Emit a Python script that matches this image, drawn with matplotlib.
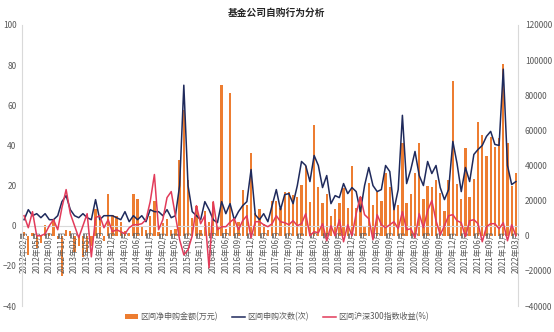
import numpy as np
import matplotlib
matplotlib.use("Agg")
import matplotlib.pyplot as plt
from matplotlib.patches import Patch
from matplotlib.lines import Line2D

plt.rcParams["font.family"] = ["Noto Sans CJK SC", "DejaVu Sans"]

# monthly series, 2012-02 .. 2022-03 (a few months absent)
NET_AMOUNT = [  # 区间净申购金额, 万元
    2000, -11000, 1500, -7000, -4000, 6000, 1500, 9000, -2000, -23000,
    3000, 2500, -9000, -6000, -12000, -9000, -6000, 15000, 9000, -3000,
    24000, 12000, 11000, 8000, 2500, 1500, 24000, 21000, 5000, 3000,
    11000, 20000, 2000, 7000, 9500, 3000, 4000, 43000, 71500, 32000,
    10000, 17000, 3500, 14000, 8000, 19000, 5000, 86000, 4000, 81000,
    10000, 8000, 26000, 17500, 47000, 13000, 15500, 6500, 3000, 20000,
    20000, 16000, 25000, 25000, 23000, 22000, 29000, 40000, 19000, 63000,
    28000, 18500, 24000, 11000, 15000, 18500, 27000, 16000, 39500, 16000,
    22000, 5000, 30000, 17500, 25000, 20000, 36000, 28000, 16000, 17500,
    53000, 18500, 24000, 36000, 53000, 21000, 28500, 27500, 31500, 24500,
    14000, 31500, 88000, 29500, 21000, 50000, 22000, 32500, 64500, 57500,
    45500, 56500, 50500, 55500, 98000, 53000, 28500, 35500,
]

SUB_COUNT = [  # 区间申购次数, 次
    3, 8, 5, 6, 4, 6, 3, 3, 5, 12,
    15, 8, 5, 4, 6, 4, 3, 13, 3, 5,
    5, 5, 4, 3, 7, 2, 5, 3, 5, 2,
    8, 7, 7, 5, 8, 4, 5, 20, 70, 20,
    7, 5, 3, 12, 8, 3, 1.5, 12, 6, 11,
    3, 7, 10, 12, 28, 5.5, 3, 6, 2, 10,
    18, 8, 15.5, 16, 11, 20, 32, 30, 22, 35,
    30, 19, 25, 11, 15, 14, 21, 16, 19, 17,
    7, 20, 29, 20, 17, 18, 30, 27, 8, 18,
    55, 21, 28, 37, 25, 20, 32, 26, 30, 19,
    13, 18, 42, 31, 17, 29, 22, 35.5, 38, 40,
    44.5, 47, 40.5, 40, 78, 30, 20.5, 22,
]

HS300_RET = [  # 区间沪深300指数收益, %
    5, -1, 7, -5, -5, -4, 0, 3, -2, 9,
    18, 6, 0, -6, 0, 6, -15.5, 4, 5, -1,
    3, -3, -2, -3, -4, -1, 0.5, 0.5, 1, 3,
    12, 25.5, -2, 3, 14, 17, 5, -7, -14.5, -12,
    -5, 10, 1, 5, -21, 12, -2, -0.5, -0.5, 1.8,
    3.5, -2, 2.5, 5, -6, 2, 2, 0.5, -0.5, 1,
    5, 2, 1.5, 0.5, 2.5, 0, 1, 6, -5, -3,
    -3.5, 1, -7.5, 0, -5, 3, -8, 0.5, -5, 6,
    14.5, 5.5, 3.5, -7, 5.5, 0.5, -1, 0.5, 2, -1.5,
    7, -2, -1.5, -6, 6, -1, 7.5, 12.5, 2.5, -4.5,
    0, 5, 5.5, 2.5, 1.5, -5.5, 2.5, 3, 1, -8,
    -0.5, 1, 1, -1.5, 1.5, -7.5, 0.5, -5,
]

TICK_LABELS = [
    "2012年02月", "2012年05月", "2012年08月", "2012年11月", "2013年02月",
    "2013年05月", "2013年08月", "2013年12月", "2014年03月", "2014年06月",
    "2014年11月", "2015年02月", "2015年05月", "2015年08月", "2015年11月",
    "2016年03月", "2016年06月", "2016年09月", "2016年12月", "2017年03月",
    "2017年06月", "2017年09月", "2017年12月", "2018年03月", "2018年06月",
    "2018年09月", "2018年12月", "2019年03月", "2019年06月", "2019年09月",
    "2019年12月", "2020年03月", "2020年06月", "2020年09月", "2020年12月",
    "2021年03月", "2021年06月", "2021年09月", "2021年12月", "2022年03月",
]

ORANGE = "#ED7D31"
NAVY = "#1F2A5C"
RED = "#E23B5A"
AXIS_GREY = "#D9D9D9"
TEXT_GREY = "#595959"

x = np.arange(len(NET_AMOUNT))

fig = plt.figure(figsize=(5.54, 3.32), dpi=100)
ax = fig.add_axes([0.0397, 0.0783, 0.8953, 0.8464])
ax2 = ax.twinx()

# bars on the right-hand axis, lines on top of them on the left-hand axis
ax2.bar(x, NET_AMOUNT, width=0.55, color=ORANGE, zorder=1)
ax.plot(x, SUB_COUNT, color=NAVY, lw=1.1, zorder=3)
ax.plot(x, HS300_RET, color=RED, lw=1.1, zorder=4)
ax.set_zorder(ax2.get_zorder() + 1)
ax.patch.set_visible(False)

# category axis sits on the left-hand zero line
ax.spines["bottom"].set_position(("data", 0))

ax.set_xlim(-0.5, len(x) - 0.5)
ax.set_ylim(-40, 100)
ax.set_yticks(np.arange(-40, 101, 20))
ax2.set_ylim(-40000, 120000)
ax2.set_yticks(np.arange(-40000, 120001, 20000))

ax.set_xticks(x[::3])
ax.set_xticklabels(TICK_LABELS)

for a in (ax, ax2):
    a.spines["top"].set_visible(False)
    for side in ("left", "right", "bottom"):
        a.spines[side].set_color(AXIS_GREY)
        a.spines[side].set_linewidth(0.8)
    a.tick_params(axis="both", length=0, labelsize=6, labelcolor=TEXT_GREY)
ax2.spines["bottom"].set_visible(False)
ax.spines["right"].set_visible(False)
ax2.spines["left"].set_visible(False)
ax.tick_params(axis="x", pad=3, labelrotation=90, labelsize=5.8)
ax.tick_params(axis="y", pad=4)
ax2.tick_params(axis="y", pad=5)

fig.suptitle("基金公司自购行为分析", y=0.975, fontsize=7, fontweight="bold",
             color="#262626")

handles = [
    Patch(facecolor=ORANGE, edgecolor="none"),
    Line2D([], [], color=NAVY, lw=1.1),
    Line2D([], [], color=RED, lw=1.1),
]
labels = ["区间净申购金额(万元)", "区间申购次数(次)", "区间沪深300指数收益(%)"]
fig.legend(handles, labels, loc="center", bbox_to_anchor=(0.5, 0.045), ncol=3,
           frameon=False, fontsize=5.8, handlelength=1.6, handleheight=0.5,
           columnspacing=1.8, handletextpad=0.3, labelcolor=TEXT_GREY)

fig.savefig("out.png", dpi=100)
